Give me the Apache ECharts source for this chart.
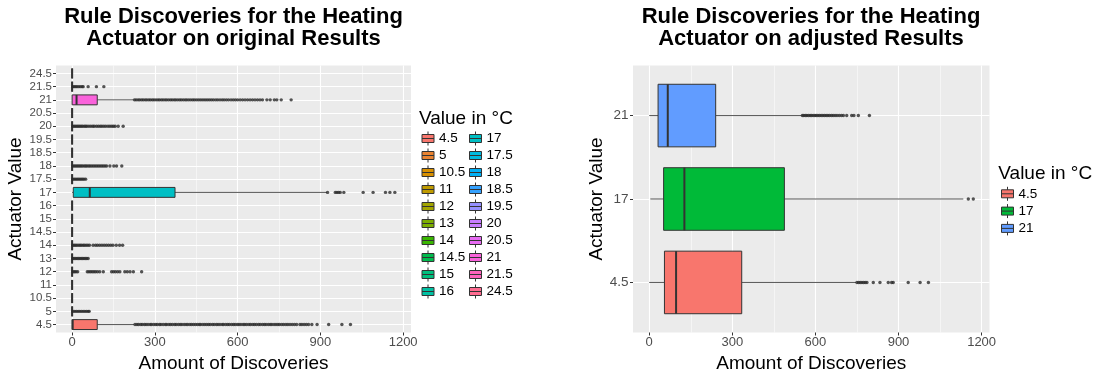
<!DOCTYPE html>
<html>
<head>
<meta charset="utf-8">
<script src="https://cdn.jsdelivr.net/npm/echarts@6/dist/echarts.min.js"></script>
<style>html,body{margin:0;padding:0;background:#fff;}#c{width:1098px;height:380px;}</style>
</head>
<body>
<div id="c"></div>
<script>
// ---------- data: original results ----------
const catsOrig = ['4.5','5','10.5','11','12','13','14','14.5','15','16','17','17.5','18','18.5','19.5','20','20.5','21','21.5','24.5'];
const colorsOrig = ['#F8766D','#EA8331','#D89000','#C09B00','#A3A500','#7CAE00','#39B600','#00BB4E','#00BF7D','#00C1A3','#00BFC4','#00BAE0','#00B0F6','#35A2FF','#9590FF','#C77CFF','#E76BF3','#FA62DB','#FF62BC','#FF6C91'];
const lowOrig    = [0,0,0,0,0,0,0,0,0,0,  0,0,0,0,0,0,0,  0,0,0];
const q1Orig     = [0,0,0,0,0,0,0,0,0,0,  4,0,0,0,0,0,0,  0,0,0];
const medOrig    = [2,0,0,0,0,0,0,0,0,0, 64,0,0,0,0,0,0, 16,0,0];
const q3Orig     = [91,0,0,0,0,0,0,0,0,0,373,0,0,0,0,0,0,91,0,0];
const highOrig   = [225,0,0,0,0,0,0,0,0,0,924,0,0,0,0,0,0,222,0,0];
const outOrig = [
  [228,235,241,249,254,262,268,275,283,288,296,303,309,317,322,330,338,343,351,357,364,372,377,385,392,398,406,413,419,427,433,440,447,454,461,466,474,481,488,495,501,509,515,523,529,536,544,549,557,564,570,578,585,591,599,605,612,620,626,633,641,647,655,661,668,676,682,690,697,703,711,718,724,732,739,746,752,760,767,775,782,790,798,806,814,826,833,841,849,857,869,888,930,978,1009],
  [4,10,16,22,28,34,40,46,52,58,62],
  [],
  [],
  [4,9,14,20,55,61,67,73,79,85,92,100,113,143,150,157,165,173,191,200,210,222,252],
  [3,8,13,18,23,28,33,38,43,48,53,58],
  [3,8,13,18,24,29,34,40,45,51,57,63,76,85,92,100,108,116,124,132,140,148,160,172,183],
  [],
  [],
  [],
  [926,954,960,966,972,985,1055,1091,1136,1152,1170],
  [3,8,13,18,23,28,33,38,43,49],
  [3,8,13,18,23,28,33,38,44,49,54,60,65,71,77,83,89,95,101,107,113,119,125,137,151,161,180],
  [],
  [],
  [3,8,13,18,23,28,33,38,44,49,54,61,68,75,80,88,95,102,108,115,122,130,137,144,150,156,167,185],
  [],
  [226,232,239,245,252,258,265,271,278,284,291,297,304,311,317,324,330,337,343,350,357,363,370,376,383,390,396,403,410,416,423,430,437,443,450,457,464,471,478,485,492,499,506,513,521,528,536,544,551,559,567,576,584,592,600,609,618,627,636,645,654,663,672,681,690,706,718,733,742,758,794],
  [3,8,13,18,24,30,36,40,58,88,115],
  []
];

// ---------- data: adjusted results ----------
const catsAdj = ['4.5','17','21'];
const colorsAdj = ['#F8766D','#00BA38','#619CFF'];
const lowAdj  = [0, 4, 0];
const q1Adj   = [55, 52, 32];
const medAdj  = [97, 127, 67];
const q3Adj   = [334, 488, 240];
const highAdj = [747, 1134, 551];
const outAdj = [
  [750,756,762,768,774,780,786,809,833,863,875,881,935,978,1008],
  [1152,1170],
  [553,558,564,569,575,581,586,592,598,603,609,615,621,627,633,639,645,651,658,664,671,678,686,694,701,713,731,739,755,795]
];

const xTicks = [0,300,600,900,1200];
const xMinorTicks = [150,450,750,1050];
const xMin = -58.5, xMax = 1228.5;

const FONT = 'Liberation Sans, Arial, sans-serif';
const ADJ = 'adj ';

function renderBox(params, api) {
  const y = api.value(0);
  const lo = api.coord([api.value(1), y]);
  const q1 = api.coord([api.value(2), y]);
  const md = api.coord([api.value(3), y]);
  const q3 = api.coord([api.value(4), y]);
  const hi = api.coord([api.value(5), y]);
  const h = Math.abs(api.size([0, 1])[1]) * 0.75;
  const color = api.visual('color');
  return {
    type: 'group',
    children: [
      {type: 'line', shape: {x1: lo[0], y1: lo[1], x2: q1[0], y2: q1[1]}, style: {stroke: '#555', lineWidth: 1}},
      {type: 'line', shape: {x1: q3[0], y1: q3[1], x2: hi[0], y2: hi[1]}, style: {stroke: '#555', lineWidth: 1}},
      {type: 'rect', shape: {x: q1[0], y: q1[1] - h / 2, width: q3[0] - q1[0], height: h}, style: {fill: color, stroke: '#333', lineWidth: 1}},
      {type: 'line', shape: {x1: md[0], y1: md[1] - h / 2, x2: md[0], y2: md[1] + h / 2}, style: {stroke: '#333', lineWidth: 2}}
    ]
  };
}

function boxSeries(cats, colors, low, q1, med, q3, high, axisIdx, prefix) {
  return cats.map((c, i) => ({
    type: 'custom',
    name: prefix + c,
    xAxisIndex: axisIdx * 2,
    yAxisIndex: axisIdx,
    itemStyle: {color: colors[i]},
    renderItem: renderBox,
    encode: {x: [1, 2, 3, 4, 5], y: 0},
    data: [[i, low[i], q1[i], med[i], q3[i], high[i]]],
    silent: true,
    z: 2
  }));
}

function outlierSeries(outs, axisIdx) {
  const pts = [];
  outs.forEach((arr, i) => arr.forEach(v => pts.push([v, i])));
  return {
    type: 'scatter', name: 'outliers' + axisIdx,
    xAxisIndex: axisIdx * 2, yAxisIndex: axisIdx,
    symbolSize: 3.4, itemStyle: {color: '#2a2a2a'},
    data: pts, silent: true, z: 3
  };
}

function xAxes(gridIndex) {
  return [
    {
      type: 'value', gridIndex, min: xMin, max: xMax, position: 'bottom',
      name: 'Amount of Discoveries', nameLocation: 'middle', nameGap: 19,
      nameTextStyle: {fontSize: 19, color: '#000', fontFamily: FONT},
      axisLine: {show: false, onZero: false},
      axisTick: {show: true, length: 3, lineStyle: {color: '#333'}, customValues: xTicks},
      axisLabel: {customValues: xTicks, formatter: v => String(v), fontSize: 13, color: '#4D4D4D', fontFamily: FONT, margin: 3.5},
      splitLine: {show: true, lineStyle: {color: '#fff', width: 1.1}}
    },
    {
      type: 'value', gridIndex, min: xMin, max: xMax, position: 'bottom',
      axisLine: {show: false, onZero: false},
      axisTick: {show: false, customValues: xMinorTicks},
      axisLabel: {show: false, customValues: xMinorTicks},
      splitLine: {show: true, lineStyle: {color: '#fff', width: 0.5}}
    }
  ];
}

function yAxis(gridIndex, cats, fontSize, margin, nameGap) {
  const idx = cats.map((c, i) => i);
  return {
    type: 'value', gridIndex, min: -0.6, max: cats.length - 0.4, position: 'left',
    name: 'Actuator Value', nameLocation: 'middle', nameGap,
    nameTextStyle: {fontSize: 19, color: '#000', fontFamily: FONT},
    axisLine: {show: false, onZero: false},
    axisTick: {show: true, length: 3, lineStyle: {color: '#333'}, customValues: idx},
    axisLabel: {customValues: idx, formatter: v => cats[Math.round(v)], fontSize, color: '#4D4D4D', fontFamily: FONT, margin},
    splitLine: {show: true, lineStyle: {color: '#fff', width: 1.1}}
  };
}

const icon = 'path://M0,3L12,3L12,11L0,11Z M0,7L12,7 M6,0L6,3 M6,11L6,14';
function legend(data, left, top, gap, formatter) {
  return {
    data, left, top, orient: 'vertical', itemGap: gap, itemWidth: 12, itemHeight: 14,
    itemTextGap: 3, padding: 0, icon, selectedMode: false,
    itemStyle: {borderColor: '#333', borderWidth: 1},
    textStyle: {color: '#000', fontSize: 13.5, fontFamily: FONT},
    formatter: formatter || (n => n)
  };
}

const option = {
  animation: false,
  backgroundColor: '#fff',
  grid: [
    {left: 56, top: 65.5, width: 355, height: 267, show: true, backgroundColor: '#EBEBEB', borderWidth: 0},
    {left: 633, top: 65.5, width: 356.5, height: 267, show: true, backgroundColor: '#EBEBEB', borderWidth: 0}
  ],
  xAxis: [...xAxes(0), ...xAxes(1)],
  yAxis: [yAxis(0, catsOrig, 11.5, 4, 28), yAxis(1, catsAdj, 13.5, 4.5, 25)],
  legend: [
    legend(catsOrig.slice(0, 10), 421.5, 131, 2),
    legend(catsOrig.slice(10), 469, 131, 2),
    legend(catsAdj.map(c => ADJ + c), 1001, 186.3, 2.3, n => n.replace(ADJ, ''))
  ],
  graphic: [
    {type: 'text', x: 233.5, y: 6.3, silent: true, style: {text: 'Rule Discoveries for the Heating\nActuator on original Results', font: 'bold 22px ' + FONT, fill: '#000', align: 'center', verticalAlign: 'top', lineHeight: 21.7}},
    {type: 'text', x: 811, y: 6.3, silent: true, style: {text: 'Rule Discoveries for the Heating\nActuator on adjusted Results', font: 'bold 22px ' + FONT, fill: '#000', align: 'center', verticalAlign: 'top', lineHeight: 21.7}},
    {type: 'text', x: 419, y: 108.8, silent: true, style: {text: 'Value in °C', font: '19px ' + FONT, fill: '#000', align: 'left', verticalAlign: 'top', lineHeight: 19}},
    {type: 'text', x: 998.3, y: 164.5, silent: true, style: {text: 'Value in °C', font: '19px ' + FONT, fill: '#000', align: 'left', verticalAlign: 'top', lineHeight: 19}}
  ],
  series: [
    ...boxSeries(catsOrig, colorsOrig, lowOrig, q1Orig, medOrig, q3Orig, highOrig, 0, ''),
    outlierSeries(outOrig, 0),
    ...boxSeries(catsAdj, colorsAdj, lowAdj, q1Adj, medAdj, q3Adj, highAdj, 1, ADJ),
    outlierSeries(outAdj, 1)
  ]
};

const chart = echarts.init(document.getElementById('c'), null, {renderer: 'canvas'});
chart.setOption(option);
</script>
</body>
</html>
